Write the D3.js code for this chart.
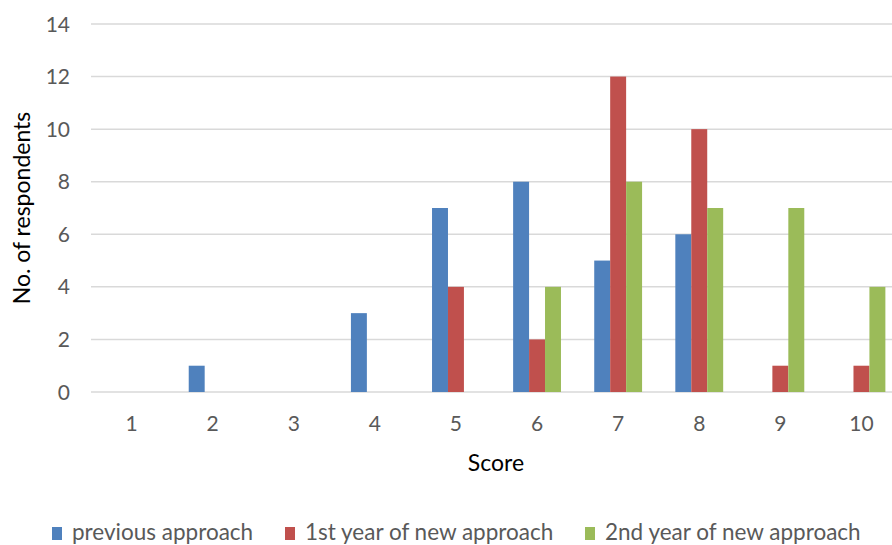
<!DOCTYPE html>
<html><head><meta charset="utf-8">
<script src="https://cdn.jsdelivr.net/npm/d3@7"></script>
<style>body{margin:0;background:#fff}svg{display:block}</style>
</head><body><svg id="c" width="892" height="545"></svg>
<script>
const categories = ["1","2","3","4","5","6","7","8","9","10"];
const seriesNames = ["previous approach","1st year of new approach","2nd year of new approach"];
const previousApproach = [0,1,0,3,7,8,5,6,0,0];
const firstYear = [0,0,0,0,4,2,12,10,1,1];
const secondYear = [0,0,0,0,0,4,8,7,7,4];
const yTicks = [0,2,4,6,8,10,12,14];
const colors = ["#4F81BD","#C0504D","#9BBB59"];

const seriesValues = [previousApproach, firstYear, secondYear];
const svg = d3.select("#c");
const font = "Lato, 'Open Sans', sans-serif";

const x = d3.scaleBand().domain(categories).range([91, 902]).paddingInner(0.41).paddingOuter(0.205);
const xs = d3.scaleBand().domain(seriesNames).range([0, x.bandwidth()]);
const y = d3.scaleLinear().domain([0,14]).range([392, 24]);

// gridlines
svg.append("g").selectAll("line").data(yTicks).join("line")
  .attr("x1", 91).attr("x2", 902)
  .attr("y1", d => y(d)).attr("y2", d => y(d))
  .attr("stroke", "#d9d9d9").attr("stroke-width", 1.5);

// y axis labels
const yAxis = d3.axisLeft(y).tickValues(yTicks).tickSize(0).tickPadding(0);
const gy = svg.append("g").attr("transform", "translate(70,0)").call(yAxis);
gy.select(".domain").remove();
gy.selectAll("text").attr("font-family", font).attr("font-size", 21).attr("fill", "#595959").attr("dy", "0.34em");

// x axis labels
const xAxis = d3.axisBottom(x).tickSize(0).tickPadding(0);
const gx = svg.append("g").attr("transform", "translate(0,416)").call(xAxis);
gx.select(".domain").remove();
gx.selectAll("text").attr("font-family", font).attr("font-size", 21).attr("fill", "#595959").attr("dy", "0.71em");

// bars
const groups = svg.append("g").selectAll("g").data(seriesNames).join("g")
  .attr("fill", (d,i) => colors[i]);
groups.selectAll("rect").data((s,i) => categories.map((c,j) => ({c, s, v: seriesValues[i][j]})).filter(d => d.v > 0))
  .join("rect")
  .attr("x", d => x(d.c) + xs(d.s))
  .attr("width", xs.bandwidth())
  .attr("y", d => y(d.v))
  .attr("height", d => y(0) - y(d.v));

// axis titles
svg.append("text").attr("x", 496).attr("y", 471).attr("text-anchor", "middle")
  .attr("font-family", font).attr("font-size", 23).attr("fill", "#000").text("Score");
svg.append("text").attr("transform", "translate(30,208) rotate(-90)").attr("text-anchor", "middle")
  .attr("font-family", font).attr("font-size", 23).attr("fill", "#000").text("No. of respondents");

// legend
const legendX = [52, 285, 585];
const lg = svg.append("g").selectAll("g").data(seriesNames).join("g")
  .attr("transform", (d,i) => `translate(${legendX[i]},0)`);
lg.append("rect").attr("x", 0).attr("y", 527).attr("width", 10).attr("height", 13).attr("fill", (d,i) => colors[i]);
lg.append("text").attr("x", 20).attr("y", 540).attr("font-family", font).attr("font-size", 22.5)
  .attr("fill", "#595959").text(d => d);
</script></body></html>
